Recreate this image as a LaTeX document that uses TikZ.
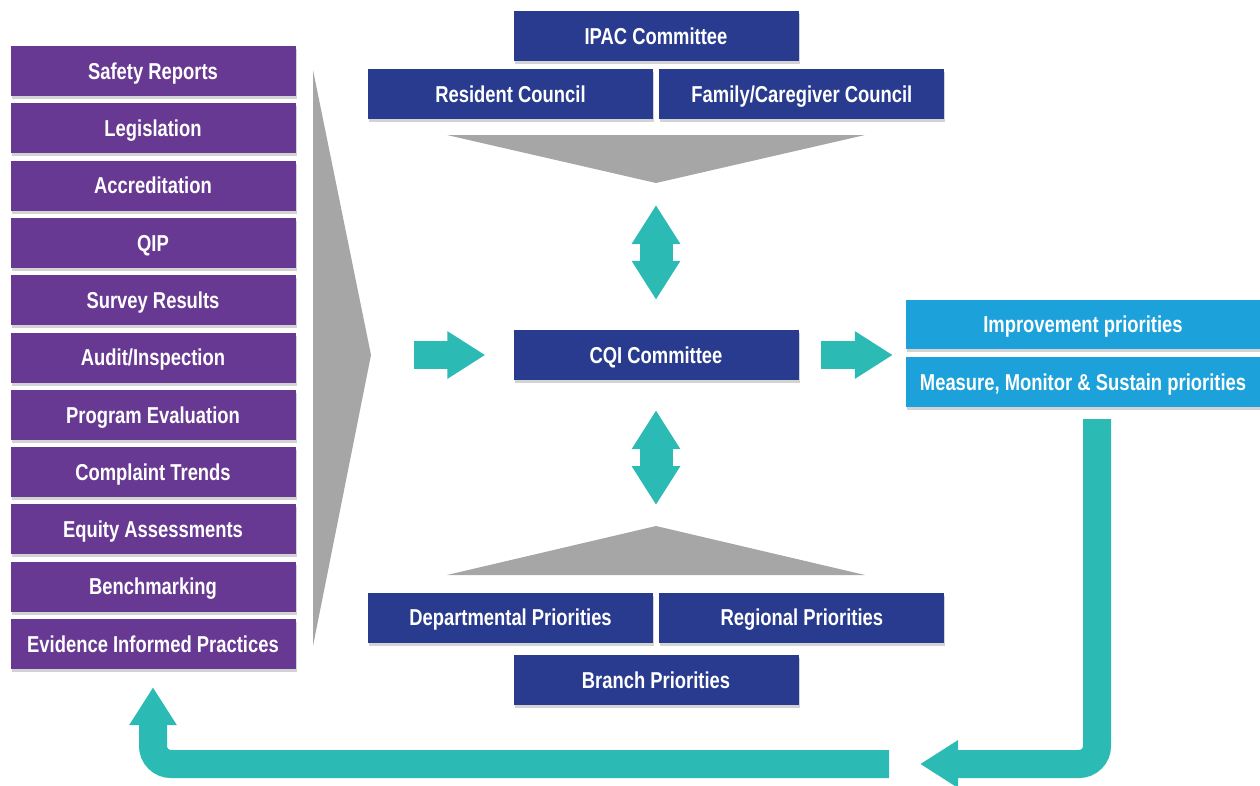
\documentclass[tikz,border=0pt]{standalone}
\usepackage{fontspec}
\setmainfont{Liberation Sans}[FakeStretch=0.8]
\usepackage{tikz}
\usetikzlibrary{arrows.meta, positioning, shadows}
\definecolor{cqinavy}{RGB}{41,59,143}
\definecolor{cqipurple}{RGB}{104,57,146}
\definecolor{cqiteal}{RGB}{43,187,180}
\definecolor{cqisky}{RGB}{29,161,218}
\definecolor{cqigray}{RGB}{166,166,166}

\begin{document}
\begin{tikzpicture}[x=1pt,y=-1pt,node distance=7pt]
 \tikzstyle{cqibox}=[rectangle,text=white,font=\bfseries\fontsize{23}{26}\selectfont,
   minimum width=285pt,minimum height=50pt,inner sep=0pt,
   text height=16.5pt,text depth=0pt,
   drop shadow={shadow xshift=1pt,shadow yshift=-3pt,opacity=.35}]
 \tikzstyle{flow}=[cqiteal,line width=28pt,-{Triangle[length=38pt,width=45pt]}]
 \tikzstyle{twoway}=[cqiteal,line width=33pt,
   {Triangle[length=39pt,width=46pt]}-{Triangle[length=39pt,width=46pt]}]
 \useasboundingbox (0,0) rectangle (1260,785);

 \foreach \txt [count=\i] in {Safety Reports, Legislation, Accreditation, QIP,
   Survey Results, Audit/Inspection, Program Evaluation, Complaint Trends,
   Equity Assessments, Benchmarking, Evidence Informed Practices}
   \node (src\i) [cqibox,fill=cqipurple] at (153,{71+57.3*(\i-1)}) {\txt};

 \coordinate (chevtip) at (371,355);
 \coordinate (uptip) at (656,183);
 \coordinate (lowtip) at (656,526);
 \fill[cqigray] (313,70) -- (chevtip) -- (313,646) -- cycle;
 \fill[cqigray] (447,135) -- (865,135) -- (uptip) -- cycle;
 \fill[cqigray] (447,575) -- (865,575) -- (lowtip) -- cycle;

 \node (ipac) [cqibox,fill=cqinavy] at (656,36) {IPAC Committee};
 \node (res) [cqibox,fill=cqinavy,below=8pt of ipac,xshift=-145.5pt] {Resident Council};
 \node (fam) [cqibox,fill=cqinavy,right=6pt of res] {Family/Caregiver Council};

 \node (cqi) [cqibox,fill=cqinavy] at (656,355) {CQI Committee};

 \node (branch) [cqibox,fill=cqinavy] at (656,680) {Branch Priorities};
 \node (dept) [cqibox,fill=cqinavy,above=12pt of branch,xshift=-145.5pt] {Departmental Priorities};
 \node (reg) [cqibox,fill=cqinavy,right=6pt of dept] {Regional Priorities};

 \node (improve) [cqibox,fill=cqisky,minimum width=354pt,minimum height=49pt]
   at (1083,324.5) {Improvement priorities};
 \node (measure) [cqibox,fill=cqisky,minimum width=354pt,below=8pt of improve]
   {Measure, Monitor \& Sustain priorities};

 \draw[flow,shorten <=43pt,shorten >=28pt] (chevtip) -- (cqi);
 \draw[flow,shorten <=22pt,shorten >=13pt] (cqi) -- (cqi -| measure.west);
 \draw[twoway,shorten <=22pt,shorten >=30pt] (uptip) -- (cqi);
 \draw[twoway,shorten <=30pt,shorten >=21pt] (cqi) -- (lowtip);

 \coordinate (loopin) at (1097,419);
 \coordinate (loopmid) at (920,764);
 \coordinate (loopout) at (889,764);
 \draw[flow,rounded corners=18pt] (loopin) |- (loopmid);
 \draw[flow,rounded corners=18pt,shorten >=18pt] (loopout) -| (src11);
\end{tikzpicture}
\end{document}
